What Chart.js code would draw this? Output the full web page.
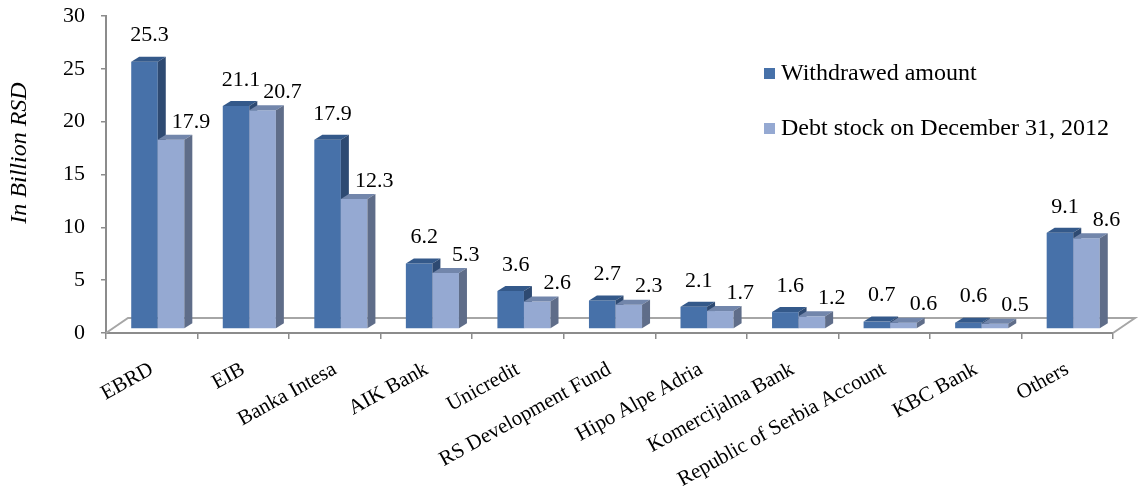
<!DOCTYPE html>
<html>
<head>
<meta charset="utf-8">
<script src="https://cdn.jsdelivr.net/npm/chart.js@4.4.1/dist/chart.umd.min.js"></script>
<style>
  html, body { margin: 0; padding: 0; background: #fff; }
  #wrap { width: 1144px; height: 497px; position: relative; }
</style>
</head>
<body>
<div id="wrap"><canvas id="myChart"></canvas></div>
<script>
// Data
const lenders = ["EBRD", "EIB", "Banka Intesa", "AIK Bank", "Unicredit", "RS Development Fund",
  "Hipo Alpe Adria", "Komercijalna Bank", "Republic of Serbia Account", "KBC Bank", "Others"];
const withdrawn = [25.3, 21.1, 17.9, 6.2, 3.6, 2.7, 2.1, 1.6, 0.7, 0.6, 9.1];
const debtStock = [17.9, 20.7, 12.3, 5.3, 2.6, 2.3, 1.7, 1.2, 0.6, 0.5, 8.6];
const seriesNames = ["Withdrawed amount", "Debt stock on December 31, 2012"];
const yTicks = [0, 5, 10, 15, 20, 25, 30];
const yTitle = "In Billion RSD";

// 3D look
const FONT = "'Liberation Serif', 'Times New Roman', serif";
const AXIS_GREY = "#8c8c8c";
const FLOOR_DX = 22, FLOOR_DY = 15;   // floor depth
const BAR_DX = 8, BAR_DY = 5;         // bar depth
const SHIFT_X = 6, SHIFT_Y = -4;      // bars sit in the middle of the floor

function poly(ctx, pts, fill) {
  ctx.beginPath();
  ctx.moveTo(pts[0][0], pts[0][1]);
  for (let i = 1; i < pts.length; i++) ctx.lineTo(pts[i][0], pts[i][1]);
  ctx.closePath();
  ctx.fillStyle = fill;
  ctx.fill();
}

const threeD = {
  id: "threeD",
  beforeDatasetsDraw(chart) {
    // floor outline
    const ctx = chart.ctx;
    const a = chart.chartArea;
    ctx.save();
    ctx.strokeStyle = "#a6a6a6";
    ctx.lineWidth = 2;
    ctx.beginPath();
    ctx.moveTo(a.left, a.bottom);
    ctx.lineTo(a.left + FLOOR_DX, a.bottom - FLOOR_DY);
    ctx.lineTo(a.right + FLOOR_DX, a.bottom - FLOOR_DY);
    ctx.lineTo(a.right, a.bottom);
    ctx.stroke();
    ctx.restore();
  },
  // skip the flat default bars, they are drawn with their faces below
  beforeDatasetDraw() {
    return false;
  },
  afterDatasetsDraw(chart) {
    const ctx = chart.ctx;
    ctx.save();
    ctx.translate(SHIFT_X, SHIFT_Y);
    chart.data.datasets.forEach((ds, i) => {
      chart.getDatasetMeta(i).data.forEach(bar => {
        bar.draw(ctx);
        const l = bar.x - bar.width / 2, r = bar.x + bar.width / 2;
        const top = bar.y, base = bar.base;
        poly(ctx, [[l, top], [l + BAR_DX, top - BAR_DY], [r + BAR_DX, top - BAR_DY], [r, top]], ds.topColor);
        poly(ctx, [[r, top], [r + BAR_DX, top - BAR_DY], [r + BAR_DX, base - BAR_DY], [r, base]], ds.sideColor);
      });
    });
    ctx.restore();
  },
  afterDraw(chart) {
    const ctx = chart.ctx;
    ctx.save();
    // value labels
    ctx.font = "22px " + FONT;
    ctx.fillStyle = "#000";
    ctx.textAlign = "center";
    ctx.textBaseline = "middle";
    chart.data.datasets.forEach((ds, i) => {
      chart.getDatasetMeta(i).data.forEach((bar, j) => {
        const x = bar.x + SHIFT_X + (i === 0 ? 5 : 20);
        const y = bar.y + SHIFT_Y - (i === 0 ? 26 : 18);
        ctx.fillText(ds.data[j].toFixed(1), x, y);
      });
    });
    // legend
    ctx.textAlign = "left";
    ctx.font = "24px " + FONT;
    chart.data.datasets.forEach((ds, i) => {
      const y = 74 + i * 55;
      ctx.fillStyle = ds.backgroundColor;
      ctx.fillRect(764, y - 6, 11, 11);
      ctx.fillStyle = "#000";
      ctx.fillText(ds.label, 781, y);
    });
    // axis title
    ctx.translate(20, 153);
    ctx.rotate(-Math.PI / 2);
    ctx.textAlign = "center";
    ctx.font = "italic 24px " + FONT;
    ctx.fillText(yTitle, 0, 0);
    ctx.restore();
  }
};

new Chart(document.getElementById("myChart"), {
  type: "bar",
  data: {
    labels: lenders,
    datasets: [
      {
        label: seriesNames[0],
        data: withdrawn,
        backgroundColor: "#4771a9",
        topColor: "#34598a",
        sideColor: "#2e4a72",
        categoryPercentage: 0.58,
        barPercentage: 1.0
      },
      {
        label: seriesNames[1],
        data: debtStock,
        backgroundColor: "#95a9d2",
        topColor: "#7286ab",
        sideColor: "#5f6d89",
        categoryPercentage: 0.58,
        barPercentage: 1.0
      }
    ]
  },
  options: {
    responsive: true,
    maintainAspectRatio: false,
    animation: false,
    layout: { padding: { top: 16, right: 31, left: 0, bottom: 0 } },
    plugins: {
      legend: { display: false },
      tooltip: { enabled: false }
    },
    scales: {
      x: {
        grid: { offset: true, drawOnChartArea: false, tickLength: 6, color: AXIS_GREY, lineWidth: 1.5 },
        border: { color: AXIS_GREY, width: 2 },
        ticks: {
          autoSkip: false,
          maxRotation: 29,
          minRotation: 29,
          padding: 18,
          color: "#000",
          font: { family: FONT, size: 21 }
        },
        afterFit(scale) {
          scale.height = 164;
          scale.paddingLeft = 0;
          scale.paddingRight = 0;
        }
      },
      y: {
        min: 0,
        max: 30,
        afterBuildTicks(scale) { scale.ticks = yTicks.map(v => ({ value: v })); },
        grid: { drawOnChartArea: false, tickLength: 5, color: AXIS_GREY, lineWidth: 1.5 },
        border: { color: AXIS_GREY, width: 2 },
        ticks: {
          padding: 16,
          color: "#000",
          font: { family: FONT, size: 22 }
        },
        afterFit(scale) {
          scale.width = 106;
          scale.paddingTop = 0;
          scale.paddingBottom = 0;
        }
      }
    }
  },
  plugins: [threeD]
});
</script>
</body>
</html>
